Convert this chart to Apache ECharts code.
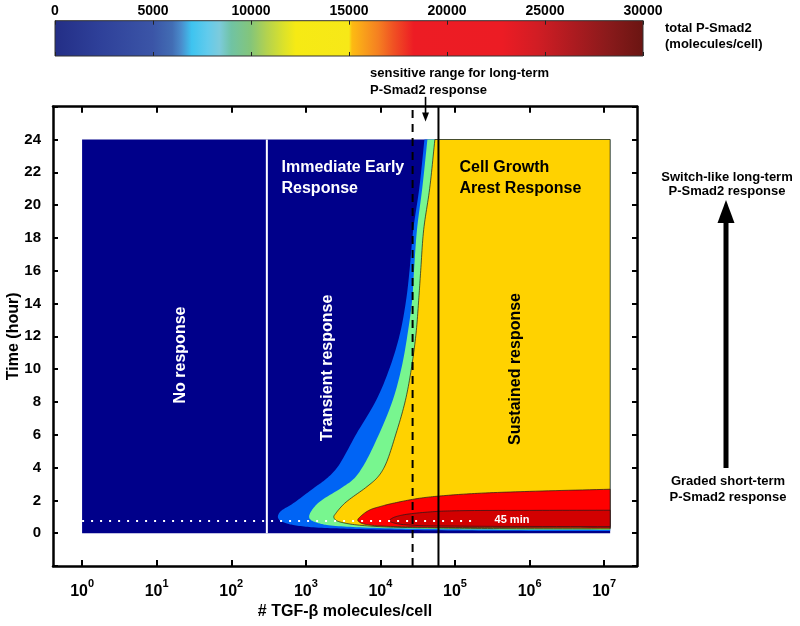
<!DOCTYPE html>
<html><head><meta charset="utf-8">
<script src="https://cdn.jsdelivr.net/npm/echarts@6/dist/echarts.min.js"></script>
<style>html,body{margin:0;padding:0;background:#fff}#c{width:800px;height:626px}</style>
</head><body><div id="c"></div>
<script>
// ---------------- data ----------------
const COLORBAR_MIN = 0;
const COLORBAR_MAX = 30000;
const COLORBAR_STEP = 5000;
const X_EXPONENTS = [0, 1, 2, 3, 4, 5, 6, 7];          // tick labels 10^n
const X_DATA_END = 7.08;                                // log10 of largest simulated dose
const HOURS_END = 24;
const NO_RESPONSE_LIMIT = 300;                           // molecules/cell (white line)
const SENSITIVE_LOW = 27000;                             // dashed line
const SENSITIVE_HIGH = 60000;                            // solid line
const MARK_45MIN = 0.75;                                 // hours
const MARK_45MIN_END = 5.26;                             // log10 dose where dotted line stops
// contour boundaries, points as [log10(TGF-beta molecules/cell), time (h)]
const EDGE_BLUE = [[4.59,24],[4.52,21],[4.44,18.5],[4.39,16],[4.344,14.2],[4.264,12.2],[4.13,10.15],[3.943,8.1],[3.683,6.1],[3.42,4.0],[3.27,3.3],[3.12,2.8],[2.83,1.82],[2.655,1.3],[2.625,1.0],[2.65,0.78],[2.70,0.66],[2.83,0.50],[3.1,0.36],[3.6,0.27],[4.5,0.19],[5.5,0.15],[7.08,0.13]];
const EDGE_GREEN = [[4.63,24],[4.56,21],[4.49,18.5],[4.45,16],[4.425,14.2],[4.366,12.2],[4.286,10.15],[4.165,8.1],[3.987,6.1],[3.77,4.1],[3.64,3.3],[3.49,2.8],[3.16,1.82],[3.055,1.2],[3.045,0.95],[3.075,0.78],[3.15,0.64],[3.28,0.50],[3.72,0.36],[4.6,0.26],[5.5,0.22],[7.08,0.20]];
const EDGE_YELLOW = [[4.73,24],[4.66,21],[4.58,18.5],[4.54,16],[4.513,14.2],[4.478,12.2],[4.419,10.15],[4.335,8.1],[4.211,6.1],[4.06,4.1],[3.96,3.4],[3.82,2.84],[3.52,1.82],[3.40,1.2],[3.375,1.0],[3.40,0.80],[3.54,0.60],[3.94,0.41],[4.7,0.32],[5.6,0.28],[7.08,0.26]];
const EDGE_RED = [[7.08,2.68],[6.0,2.55],[5.3,2.43],[4.88,2.30],[4.523,2.13],[4.165,1.82],[4.0,1.63],[3.853,1.41],[3.74,1.05],[3.696,0.80],[3.73,0.64],[3.853,0.50],[4.389,0.38],[5.5,0.34],[7.08,0.32]];
const EDGE_DARKRED = [[7.08,1.40],[6.0,1.39],[5.058,1.37],[4.701,1.31],[4.299,1.11],[4.16,0.92],[4.121,0.76],[4.2,0.60],[4.45,0.48],[5.058,0.43],[7.08,0.40]];

// ---------------- style ----------------
const FONT = '"Liberation Sans", Arial, Helvetica, sans-serif';
const C_NAVY = '#00008a', C_BLUE = '#0064f5', C_GREEN = '#78f68f', C_YELLOW = '#ffd200', C_RED = '#ff0000', C_DARKRED = '#d20000';
const CBAR_STOPS = [
  [0,'#232e86'],[0.08,'#2f419a'],[0.167,'#3b55a7'],[0.2,'#426db4'],[0.215,'#4a8ccc'],[0.233,'#3ec4f0'],[0.26,'#62cbec'],[0.28,'#7ccbdc'],[0.3,'#70c3a4'],[0.333,'#84c57a'],[0.36,'#b3d24f'],[0.39,'#dde229'],[0.41,'#f6ea14'],[0.5,'#f7e818'],
  [0.505,'#fdbb12'],[0.525,'#f9a01b'],[0.55,'#f57f21'],[0.575,'#f05223'],[0.61,'#ed1c24'],[0.76,'#ec1c24'],[0.82,'#d11d24'],[0.88,'#ad1b20'],[0.94,'#8a1a1b'],[1,'#6a1512']
];

function cr(pts, seg) {
  const n = pts.length;
  if (n < 3) return pts.slice();
  const P = i => {
    if (i < 0) return [2*pts[0][0]-pts[1][0], 2*pts[0][1]-pts[1][1]];
    if (i >= n) return [2*pts[n-1][0]-pts[n-2][0], 2*pts[n-1][1]-pts[n-2][1]];
    return pts[i];
  };
  const tj = (ti, a, b) => ti + Math.max(Math.pow(Math.hypot(b[0]-a[0], b[1]-a[1]), 0.5), 1e-4);
  const out = [];
  for (let i = 0; i < n - 1; i++) {
    const p0 = P(i-1), p1 = P(i), p2 = P(i+1), p3 = P(i+2);
    const t0 = 0, t1 = tj(t0,p0,p1), t2 = tj(t1,p1,p2), t3 = tj(t2,p2,p3);
    for (let k = 0; k < seg; k++) {
      const t = t1 + (t2 - t1) * k / seg;
      const L = (a, b, ta, tb) => [(tb-t)/(tb-ta)*a[0] + (t-ta)/(tb-ta)*b[0], (tb-t)/(tb-ta)*a[1] + (t-ta)/(tb-ta)*b[1]];
      const A1 = L(p0,p1,t0,t1), A2 = L(p1,p2,t1,t2), A3 = L(p2,p3,t2,t3);
      const B1 = L(A1,A2,t0,t2), B2 = L(A2,A3,t1,t3);
      out.push(L(B1,B2,t1,t2));
    }
  }
  out.push(pts[n-1]);
  return out;
}

const REGIONS = [
  {curve: [[0,0],[X_DATA_END,0],[X_DATA_END,HOURS_END],[0,HOURS_END]], close: [], smooth: false, fill: C_NAVY},
  {curve: EDGE_BLUE, close: [[X_DATA_END,HOURS_END]], smooth: true, fill: C_BLUE},
  {curve: EDGE_GREEN, close: [[X_DATA_END,HOURS_END]], smooth: true, fill: C_GREEN},
  {curve: EDGE_YELLOW, close: [[X_DATA_END,HOURS_END]], smooth: true, fill: C_YELLOW, stroke: true},
  {curve: EDGE_RED, close: [], smooth: true, fill: C_RED, stroke: true},
  {curve: EDGE_DARKRED, close: [], smooth: true, fill: C_DARKRED, stroke: true}
];

const chart = echarts.init(document.getElementById('c'), null, {renderer: 'canvas'});
const lg = Math.log10;
const SENS_MID = (lg(SENSITIVE_LOW) + lg(SENSITIVE_HIGH)) / 2;
const boldTxt = (size, color) => ({fontFamily: FONT, fontWeight: 'bold', fontSize: size, color: color || '#000'});
function gtext(x, y, text, size, color, opts) {
  return Object.assign({type: 'text', x: x, y: y, z: 100,
    style: {text: text, fill: color || '#000', font: 'bold ' + size + 'px ' + FONT,
      align: (opts && opts.align) || 'left', verticalAlign: 'middle',
      textAlign: (opts && opts.align) || 'left', textVerticalAlign: 'middle'}},
    opts && opts.rotation ? {rotation: opts.rotation} : {});
}
const frameLine = {show: true, onZero: false, lineStyle: {color: '#000', width: 2.5}};

const option = {
  animation: false,
  backgroundColor: '#fff',
  grid: [
    {left: 55, width: 588, top: 20.7, height: 35.3, outerBoundsMode: 'none'},
    {left: 53, right: 163, top: 106.7, bottom: 60, outerBoundsMode: 'none'}
  ],
  xAxis: [
    {gridIndex: 0, type: 'value', position: 'top', min: COLORBAR_MIN, max: COLORBAR_MAX, interval: COLORBAR_STEP, z: 10,
     axisLine: {show: false, onZero: false}, splitLine: {show: false},
     axisTick: {show: true, inside: true, length: 4, lineStyle: {color: '#222', width: 1}},
     axisLabel: Object.assign({margin: 3, formatter: v => String(v)}, boldTxt(14))},
    {gridIndex: 0, type: 'value', position: 'bottom', min: COLORBAR_MIN, max: COLORBAR_MAX, interval: COLORBAR_STEP, z: 10,
     axisLine: {show: false, onZero: false}, splitLine: {show: false}, axisLabel: {show: false},
     axisTick: {show: true, inside: true, length: 4, lineStyle: {color: '#222', width: 1}}},
    {gridIndex: 1, type: 'value', position: 'bottom', min: -0.39, max: 7.44, z: 10,
     name: '# TGF-β molecules/cell', nameLocation: 'middle', nameGap: 38, nameMoveOverlap: false, nameTextStyle: boldTxt(16),
     axisLine: frameLine, splitLine: {show: false},
     axisTick: {show: true, inside: true, length: 6, customValues: X_EXPONENTS, lineStyle: {color: '#000', width: 2}},
     axisLabel: {show: true, margin: 12, customValues: X_EXPONENTS,
       formatter: v => '{b|10}{s|' + v + '}',
       rich: {b: {fontFamily: FONT, fontWeight: 'bold', fontSize: 16, lineHeight: 22, verticalAlign: 'bottom', color: '#000'},
              s: {fontFamily: FONT, fontWeight: 'bold', fontSize: 11, verticalAlign: 'top', color: '#000'}}}},
    {gridIndex: 1, type: 'value', position: 'top', min: -0.39, max: 7.44, z: 10,
     axisLine: frameLine, splitLine: {show: false}, axisLabel: {show: false},
     axisTick: {show: true, inside: true, length: 6, customValues: X_EXPONENTS, lineStyle: {color: '#000', width: 2}}}
  ],
  yAxis: [
    {gridIndex: 0, type: 'value', min: 0, max: 1, show: false},
    {gridIndex: 1, type: 'value', position: 'left', min: -2, max: 26, interval: 2, z: 10,
     name: 'Time (hour)', nameLocation: 'middle', nameGap: 31, nameMoveOverlap: false, nameTextStyle: boldTxt(16),
     axisLine: frameLine, splitLine: {show: false},
     axisTick: {show: true, inside: true, length: 5, lineStyle: {color: '#000', width: 2}},
     axisLabel: Object.assign({margin: 12, formatter: v => (v < 0 || v > HOURS_END) ? '' : String(v)}, boldTxt(15))},
    {gridIndex: 1, type: 'value', position: 'right', min: -2, max: 26, interval: 2, z: 10,
     axisLine: frameLine, splitLine: {show: false}, axisLabel: {show: false},
     axisTick: {show: true, inside: true, length: 5, lineStyle: {color: '#000', width: 2}}}
  ],
  series: [
    {type: 'custom', xAxisIndex: 0, yAxisIndex: 0, data: [[COLORBAR_MIN, COLORBAR_MAX]], z: 2,
     renderItem: (params, api) => {
       const a = api.coord([api.value(0), 1]), b = api.coord([api.value(1), 0]);
       return {type: 'rect', shape: {x: a[0], y: a[1], width: b[0]-a[0], height: b[1]-a[1]},
         style: {fill: new echarts.graphic.LinearGradient(0, 0, 1, 0, CBAR_STOPS.map(s => ({offset: s[0], color: s[1]}))),
                 stroke: '#333', lineWidth: 1}};
     }},
    {type: 'custom', xAxisIndex: 2, yAxisIndex: 1, data: REGIONS.map((r, i) => [i]), z: 2,
     renderItem: (params, api) => {
       const r = REGIONS[params.dataIndex];
       let px = r.curve.map(p => api.coord(p));
       if (r.smooth) px = cr(px, 12);
       const pts = px.concat(r.close.map(p => api.coord(p)));
       const style = {fill: r.fill};
       if (r.stroke) { style.stroke = '#1a1a1a'; style.lineWidth = 0.7; } else { style.lineWidth = 0; }
       return {type: 'polygon', shape: {points: pts}, style: style};
     }},
    {type: 'line', xAxisIndex: 2, yAxisIndex: 1, symbol: 'none', z: 4, silent: true,
     data: [[lg(NO_RESPONSE_LIMIT), 0], [lg(NO_RESPONSE_LIMIT), HOURS_END]],
     lineStyle: {color: '#fff', width: 2}},
    {type: 'line', xAxisIndex: 2, yAxisIndex: 1, symbol: 'none', z: 4, silent: true,
     data: [[0, MARK_45MIN], [MARK_45MIN_END, MARK_45MIN]],
     lineStyle: {color: '#fff', width: 2, type: [2, 7]}},
    {type: 'line', xAxisIndex: 2, yAxisIndex: 1, symbol: 'none', z: 5, silent: true,
     data: [[lg(SENSITIVE_LOW), -2], [lg(SENSITIVE_LOW), 26]],
     lineStyle: {color: '#000', width: 2, type: [8, 6]}},
    {type: 'line', xAxisIndex: 2, yAxisIndex: 1, symbol: 'none', z: 5, silent: true,
     data: [[lg(SENSITIVE_HIGH), -2], [lg(SENSITIVE_HIGH), 26]],
     lineStyle: {color: '#000', width: 2}},
    {type: 'custom', xAxisIndex: 2, yAxisIndex: 1, z: 6, silent: true, clip: false,
     data: [[SENS_MID, 26.6, 25.1]],
     renderItem: (params, api) => {
       const a = api.coord([api.value(0), api.value(1)]), b = api.coord([api.value(0), api.value(2)]);
       return {type: 'group', children: [
         {type: 'line', shape: {x1: a[0], y1: a[1], x2: b[0], y2: b[1] - 7}, style: {stroke: '#000', lineWidth: 1.6}},
         {type: 'polygon', shape: {points: [[b[0], b[1]], [b[0] - 3.5, b[1] - 9], [b[0] + 3.5, b[1] - 9]]}, style: {fill: '#000'}}
       ]};
     }}
  ],
  graphic: [
    gtext(665, 28, 'total P-Smad2', 13),
    gtext(665, 44, '(molecules/cell)', 13),
    gtext(370, 73, 'sensitive range for long-term', 13),
    gtext(370, 90, 'P-Smad2 response', 13),
    gtext(727, 177, 'Switch-like long-term', 13, '#000', {align: 'center'}),
    gtext(727, 191, 'P-Smad2 response', 13, '#000', {align: 'center'}),
    gtext(728, 481, 'Graded short-term', 13, '#000', {align: 'center'}),
    gtext(728, 497, 'P-Smad2 response', 13, '#000', {align: 'center'}),
    {type: 'rect', z: 100, shape: {x: 723.5, y: 220, width: 5, height: 248}, style: {fill: '#000'}},
    {type: 'polygon', z: 100, shape: {points: [[726, 200], [717.5, 223], [734.5, 223]]}, style: {fill: '#000'}},
    gtext(181, 355, 'No response', 16, '#fff', {align: 'center', rotation: Math.PI / 2}),
    gtext(328, 368, 'Transient response', 16, '#fff', {align: 'center', rotation: Math.PI / 2}),
    gtext(516, 369, 'Sustained response', 16, '#000', {align: 'center', rotation: Math.PI / 2}),
    gtext(281.5, 168, 'Immediate Early', 16, '#fff'),
    gtext(281.5, 189, 'Response', 16, '#fff'),
    gtext(459.5, 168, 'Cell Growth', 16, '#000'),
    gtext(459.5, 189, 'Arest Response', 16, '#000'),
    gtext(512, 520, '45 min', 11, '#fff', {align: 'center'})
  ]
};
chart.setOption(option);
</script></body></html>
